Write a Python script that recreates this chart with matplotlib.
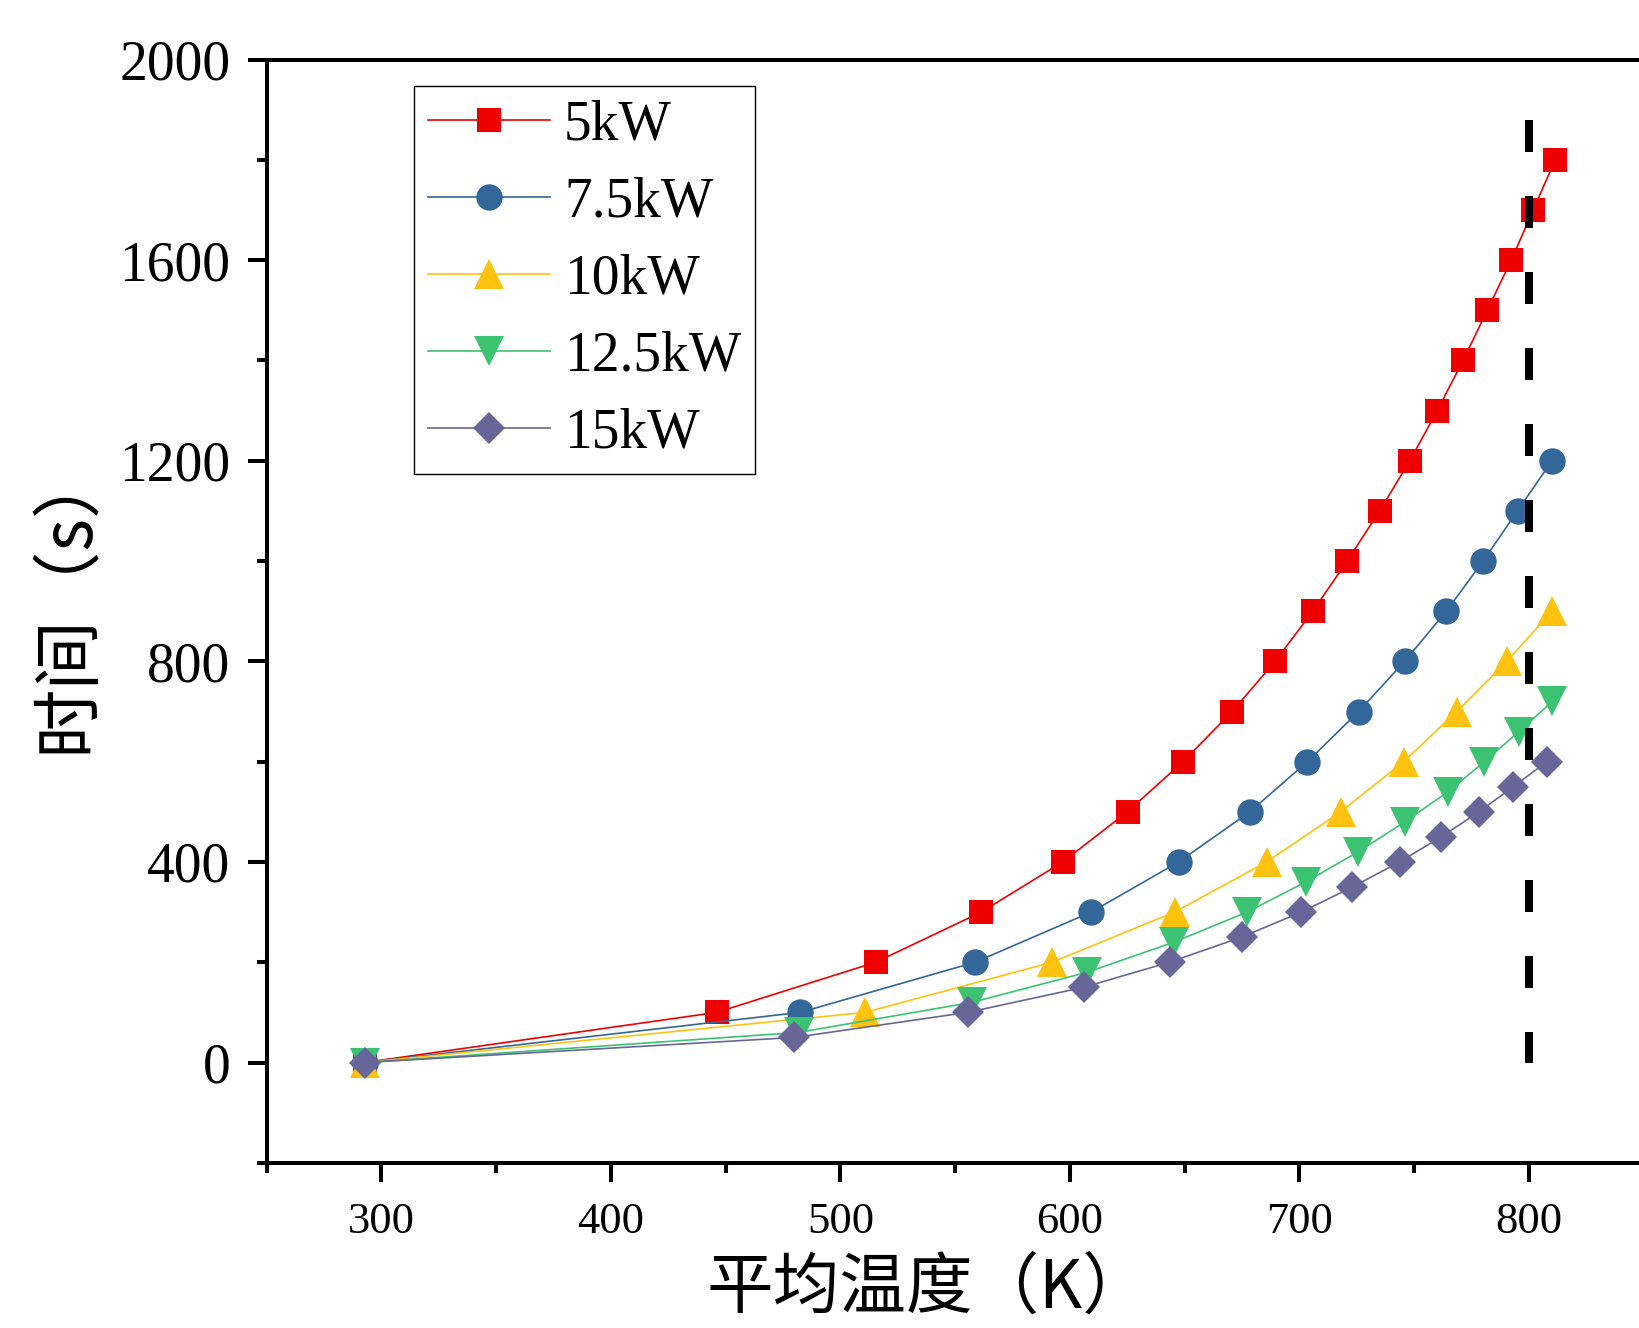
import matplotlib
matplotlib.use("Agg")
import matplotlib.pyplot as plt
from matplotlib.ticker import MultipleLocator

plt.rcParams['font.family'] = ['Liberation Serif', 'Noto Sans CJK SC', 'DejaVu Sans']

# data
t5 = [0, 100, 200, 300, 400, 500, 600, 700, 800, 900, 1000, 1100, 1200,
      1300, 1400, 1500, 1600, 1700, 1800]
T5 = [292.7, 446.2, 515.4, 561.4, 596.9, 625.1, 649.3, 670.7, 689.4, 705.8,
      720.8, 734.9, 748.1, 760.0, 771.3, 781.8, 792.3, 801.8, 811.4]

t75 = [0, 100, 200, 300, 400, 500, 600, 700, 800, 900, 1000, 1100, 1200]
T75 = [292.7, 482.6, 558.7, 609.3, 647.4, 678.4, 703.5, 725.8, 745.8, 764.0,
       780.0, 795.0, 810.0]

t10 = [0, 100, 200, 300, 400, 500, 600, 700, 800, 900]
T10 = [292.7, 510.8, 592.3, 645.6, 685.7, 718.0, 745.4, 768.6, 790.4, 810.0]

t125 = [0, 60, 120, 180, 240, 300, 360, 420, 480, 540, 600, 660, 720]
T125 = [292.7, 481.8, 557.4, 607.5, 645.3, 677.2, 702.7, 725.5, 746.0, 764.7,
        780.6, 795.6, 810.2]

t15 = [0, 50, 100, 150, 200, 250, 300, 350, 400, 450, 500, 550, 600]
T15 = [292.7, 480.0, 555.5, 606.0, 643.4, 674.8, 700.8, 723.1, 743.6, 761.8,
       778.2, 793.2, 807.8]

# limit line
T_lim = 800
t_lim = [1880, 0]

labels = ["5kW", "7.5kW", "10kW", "12.5kW", "15kW"]
colors = ["#EE0000", "#336699", "#FFC20E", "#3CC371", "#666699"]

fig = plt.figure(figsize=(16.39, 13.28), dpi=100)
ax = fig.add_axes([0.1626, 0.1244, 0.8403, 0.8307])

ax.plot(T5, t5, color=colors[0], lw=1.2, marker='s', ms=17, mew=0, label=labels[0])
ax.plot(T75, t75, color=colors[1], lw=1.2, marker='o', ms=19, mew=0, label=labels[1])
ax.plot(T10, t10, color=colors[2], lw=1.2, marker='^', ms=22, mew=0, label=labels[2])
ax.plot(T125, t125, color=colors[3], lw=1.2, marker='v', ms=22, mew=0, label=labels[3])
ax.plot(T15, t15, color=colors[4], lw=1.2, marker='D', ms=16, mew=0, label=labels[4])

ax.plot([T_lim, T_lim], t_lim, color='black', lw=5.76, dashes=(4, 5.5))

ax.set_xlim(250, 850)
ax.set_ylim(-200, 2000)
ax.xaxis.set_major_locator(MultipleLocator(100))
ax.xaxis.set_minor_locator(MultipleLocator(50))
ax.set_yticks([0, 400, 800, 1200, 1600, 2000])
ax.yaxis.set_minor_locator(MultipleLocator(200))

ax.spines['right'].set_visible(False)
for s in ['left', 'bottom', 'top']:
    ax.spines[s].set_linewidth(2.9)
ax.tick_params(which='major', length=14, width=2.9, direction='out')
ax.tick_params(which='minor', length=7, width=2.9, direction='out')
ax.tick_params(axis='y', labelsize=40, pad=12)
ax.tick_params(axis='x', labelsize=32, pad=14)

leg = ax.legend(loc='upper left', bbox_to_anchor=(0.2526, 0.9354),
                bbox_transform=fig.transFigure, borderaxespad=0,
                fontsize=40, handlelength=2.2, handletextpad=0.25,
                labelspacing=0.45, borderpad=0.25, fancybox=False,
                framealpha=1, edgecolor='black')
leg.get_frame().set_linewidth(1.0)

fig.text(0.0415, 0.55, "时间（s）", rotation=90, fontsize=50,
         ha='center', va='center', family=['Noto Sans CJK SC', 'DejaVu Sans'])
fig.text(0.566, 0.004, "平均温度（K）", fontsize=48,
         ha='center', va='bottom', family=['Noto Sans CJK SC', 'DejaVu Sans'])

fig.savefig("out.png", dpi=100)
